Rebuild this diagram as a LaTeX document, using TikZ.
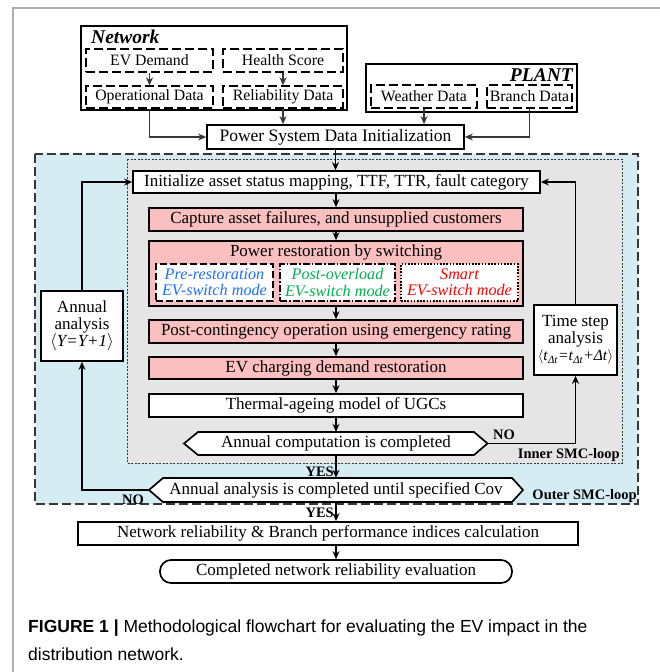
\documentclass[tikz,border=0pt]{standalone}
\usepackage{fontspec}
\setmainfont{Liberation Serif}
\newfontfamily\capfont{Liberation Sans}
\usetikzlibrary{arrows.meta,calc}
\definecolor{outerblue}{RGB}{214,236,243}
\definecolor{innergrey}{RGB}{229,229,229}
\definecolor{pinkfill}{RGB}{252,191,191}
\definecolor{preblue}{RGB}{30,110,255}
\definecolor{postgreen}{RGB}{0,176,80}
\definecolor{smartred}{RGB}{255,0,0}
\definecolor{framegrey}{RGB}{175,175,175}
\definecolor{arrowgrey}{RGB}{55,55,55}
\tikzset{
  txt/.style={font=\fontsize{17}{17}\selectfont},
  flowbox/.style={draw, line width=1.7pt, inner sep=0pt, fill=white, txt},
  pinkbox/.style={flowbox, fill=pinkfill},
  databox/.style={draw, dash pattern=on 9pt off 4pt, line width=1.3pt, inner sep=0pt, font=\fontsize{15.8}{17}\selectfont},
  groupbox/.style={draw, line width=2.2pt, inner sep=0pt},
  arr/.style={line width=1.6pt, -{Stealth[length=8pt,width=7pt]}},
  garr/.style={arr, draw=arrowgrey},
  lbl/.style={font=\bfseries\fontsize{14.5}{15}\selectfont, inner sep=0pt},
  modebox/.style={draw, fill=white, line width=1.5pt, inner sep=0pt, align=center,
    font=\itshape\fontsize{16.2}{16.5}\selectfont, minimum height=37pt},
  hexshape/.style={draw, line width=1.7pt, fill=white}
}
\begin{document}
\begin{tikzpicture}[x=1pt,y=-1pt]
\useasboundingbox (0,0) rectangle (660,672);
% outer frame
\draw[framegrey, line width=1.2pt] (13,672) -- (13,8) -- (660,8);

% Network group
\node[groupbox, minimum width=266pt, minimum height=84pt] (netbox) at (214,68) {};
\node[anchor=west, inner sep=0pt, font=\bfseries\itshape\fontsize{19.5}{20}\selectfont] (netlbl) at (91,37) {Network};
\node[databox, minimum width=127pt, minimum height=23pt] (evd) at (149.5,60.5) {EV Demand};
\node[databox, minimum width=120pt, minimum height=23pt] (hs) at (283,60.5) {Health Score};
\node[databox, minimum width=127pt, minimum height=22pt] (opd) at (149.5,97) {Operational Data};
\node[databox, minimum width=120pt, minimum height=22pt] (rel) at (283,97) {Reliability Data};

% PLANT group
\node[groupbox, minimum width=211pt, minimum height=48pt] (plantbox) at (471.5,88) {};
\node[anchor=east, inner sep=0pt, font=\bfseries\itshape\fontsize{19.5}{20}\selectfont] (plantlbl) at (573,75) {PLANT};
\node[databox, minimum width=106pt, minimum height=23pt] (wd) at (424,96.5) {Weather Data};
\node[databox, minimum width=85pt, minimum height=23pt] (bd) at (529.5,96.5) {Branch Data};

% Power system data init
\node[flowbox, minimum width=257pt, minimum height=24pt, font=\fontsize{17.5}{18}\selectfont] (psd) at (335.5,137) {Power System Data Initialization};

\draw[garr] (evd) -- (opd);
\draw[garr] (hs) -- (rel);
\draw[garr] (opd.south) |- (psd.west);
\draw[garr] (rel.south) -- (rel.south |- psd.north);
\draw[garr] (wd.south) -- (wd.south |- psd.north);
\draw[garr] (bd.south) |- (psd.east);

% Outer and inner loop regions
\draw[fill=outerblue, draw=arrowgrey, line width=1.1pt, dash pattern=on 9pt off 4pt] (35,154) rectangle (638,504);
\draw[fill=innergrey, draw=arrowgrey, line width=0.9pt, dash pattern=on 2pt off 1.5pt] (127,159) rectangle (622,463);
\node[lbl, anchor=east] (innerlbl) at (620,455) {Inner SMC-loop};
\node[lbl, anchor=east] (outerlbl) at (637,496) {Outer SMC-loop};

% Flow boxes
\node[flowbox, minimum width=407pt, minimum height=22pt] (init) at (336.5,182) {Initialize asset status mapping, TTF, TTR, fault category};
\node[pinkbox, minimum width=374pt, minimum height=23pt] (cap) at (336,219.5) {Capture asset failures, and unsupplied customers};
\node[pinkbox, minimum width=374pt, minimum height=65pt] (pr) at (336,273.5) {};
\node[inner sep=0pt, txt] (prt) at (336,252) {Power restoration by switching};
\node[modebox, text=preblue, minimum width=117pt, dash pattern=on 7pt off 3pt] (pre) at (214.5,282.5) {Pre-restoration\\EV-switch mode};
\node[modebox, text=postgreen, minimum width=115pt, dash pattern=on 7pt off 2pt on 1.5pt off 2pt] (post) at (337.5,282.5) {Post-overload\\EV-switch mode};
\node[modebox, text=smartred, minimum width=117pt, line width=1.3pt, dash pattern=on 1.6pt off 1.6pt] (smart) at (459.5,282.5) {Smart\\EV-switch mode};
\node[pinkbox, minimum width=374pt, minimum height=23pt] (pc) at (336,331.5) {Post-contingency operation using emergency rating};
\node[pinkbox, minimum width=374pt, minimum height=22pt] (evc) at (336,368) {EV charging demand restoration};
\node[flowbox, minimum width=374pt, minimum height=23pt] (th) at (336,405.5) {Thermal-ageing model of UGCs};

% Decision shapes
\draw[hexshape] (184,443.5) -- (198,432) -- (474,432) -- (487.5,443.5) -- (474,455) -- (198,455) -- cycle;
\node[inner sep=0pt, minimum width=303pt, minimum height=23pt, txt] (ac) at (336,443.5) {Annual computation is completed};
\draw[hexshape] (149,490) -- (163,478) -- (512,478) -- (523,490) -- (512,502) -- (163,502) -- cycle;
\node[inner sep=0pt, minimum width=374pt, minimum height=24pt, txt] (aa) at (336,490) {Annual analysis is completed until specified Cov};

\node[flowbox, minimum width=500pt, minimum height=23pt] (nr) at (328,533.5) {Network reliability \& Branch performance indices calculation};
\node[flowbox, rounded corners=11pt, minimum width=352pt, minimum height=23pt] (comp) at (336,571.5) {Completed network reliability evaluation};

% side boxes
\node[flowbox, minimum width=82pt, minimum height=70pt, align=center, font=\fontsize{17}{17}\selectfont] (annual) at (82,326) {Annual\\analysis\\$\langle$\textit{Y=Y+1}$\rangle$};
\node[flowbox, minimum width=83pt, minimum height=70pt, align=center, font=\fontsize{17}{17}\selectfont] (ts) at (575.5,340) {Time step\\analysis\\{\fontsize{15.5}{17}\selectfont$\langle$\textit{t}\textsubscript{\textit{Δt}}\textit{=t}\textsubscript{\textit{Δt}}\textit{+Δt}$\rangle$}};

% main arrows
\draw[arr] (psd) -- (init.north -| psd.south);
\draw[arr] (init.south -| cap.north) -- (cap.north);
\draw[arr] (cap) -- (pr);
\draw[arr] (pr) -- (pc);
\draw[arr] (pc) -- (evc);
\draw[arr] (evc) -- (th);
\draw[arr] (th) -- (ac);
\draw[arr] (ac) -- (aa);
\draw[arr] (aa) -- (aa.south |- nr.north);
\draw[arr] (nr.south -| comp.north) -- (comp.north);

% loops
\draw[arr] (ac.east) -| (ts.south);
\draw[arr] (ts.north) |- (init.east);
\draw[arr] (aa.west) -| (annual.south);
\draw[arr] (annual.north) |- (init.west);

% labels
\node[lbl, anchor=west] (no1) at (493,435) {NO};
\node[lbl] (no2) at (133,500) {NO};
\node[lbl, anchor=east] (yes1) at (334,472) {YES};
\node[lbl, anchor=east] (yes2) at (334,513) {YES};

% caption
\node[anchor=west, inner sep=0pt, font=\capfont\fontsize{17.5}{18}\selectfont] (cap1) at (28,628) {\textbf{FIGURE 1 |} Methodological flowchart for evaluating the EV impact in the};
\node[anchor=west, inner sep=0pt, font=\capfont\fontsize{17.5}{18}\selectfont] (cap2) at (28,654) {distribution network.};
\end{tikzpicture}
\end{document}
